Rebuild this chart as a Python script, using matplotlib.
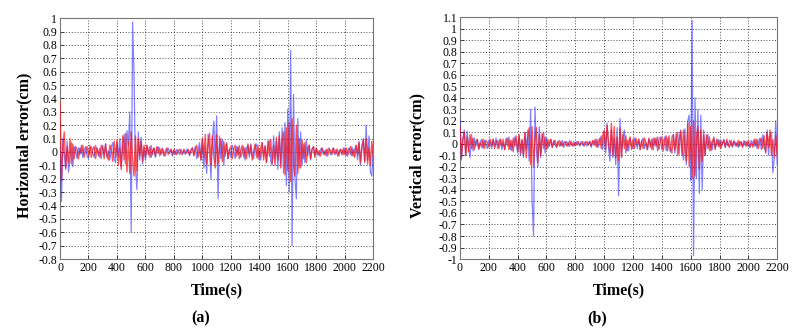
import matplotlib
matplotlib.use("Agg")
import matplotlib.pyplot as plt
import numpy as np
from matplotlib.ticker import FuncFormatter, MultipleLocator

plt.rcParams['font.family'] = ['Liberation Serif', 'DejaVu Serif']
plt.rcParams['axes.unicode_minus'] = False

# time samples (s)
time_s = list(range(0, 2201, 10))

# (a) horizontal error (cm)
horiz_blue = [
    0.06, -0.37, 0.10, -0.02, -0.13, 0.08, -0.15, -0.04, 0.07, -0.11,
    0.04, 0.01, -0.05, 0.03, -0.02, 0.05, -0.04, 0.02, 0.04, -0.03,
    -0.05, 0.02, 0.04, -0.01, -0.04, 0.05, 0.01, -0.03, 0.03, -0.05,
    0.05, -0.02, 0.06, -0.04, 0.01, -0.06, 0.04, 0.07, -0.05, -0.08,
    0.07, -0.03, 0.10, -0.11, 0.04, 0.13, -0.09, 0.16, 0.05, 0.30,
    -0.60, 0.97, 0.55, -0.12, -0.28, 0.15, -0.06, 0.11, -0.09, 0.03,
    -0.06, 0.05, 0.01, -0.04, 0.05, -0.02, 0.03, -0.04, 0.02, 0.04,
    -0.03, 0.01, 0.03, -0.02, -0.03, 0.02, 0.03, -0.01, 0.02, -0.03,
    0.01, -0.02, 0.02, 0.00, -0.02, 0.02, -0.01, 0.01, -0.02, 0.02,
    0.01, -0.03, 0.02, 0.03, -0.02, 0.04, -0.05, 0.02, 0.07, -0.06,
    0.10, -0.12, 0.04, -0.16, 0.13, 0.02, -0.20, 0.09, 0.23, -0.08,
    0.27, -0.35, 0.12, -0.05, 0.09, -0.10, 0.04, 0.07, -0.05, 0.02,
    -0.04, 0.05, 0.01, -0.05, 0.04, -0.02, 0.05, -0.04, 0.00, 0.04,
    -0.06, 0.03, 0.05, -0.04, 0.06, -0.02, -0.05, 0.04, 0.06, -0.05,
    0.02, -0.06, 0.07, -0.03, 0.05, -0.08, 0.04, 0.09, -0.07, -0.10,
    0.12, -0.05, 0.08, -0.13, 0.15, -0.09, 0.18, -0.16, 0.22, -0.25,
    0.32, -0.30, 0.76, -0.70, 0.43, -0.20, -0.35, 0.25, -0.12, 0.15,
    -0.10, 0.06, -0.08, 0.09, -0.03, 0.05, -0.06, 0.02, 0.04, -0.03,
    0.03, -0.01, -0.03, 0.02, 0.03, -0.02, 0.01, -0.03, 0.02, 0.03,
    -0.02, 0.01, 0.03, -0.02, -0.01, 0.02, -0.03, 0.02, 0.01, -0.02,
    0.03, -0.03, 0.01, 0.03, -0.02, 0.04, -0.03, 0.02, 0.05, -0.06,
    0.08, -0.10, 0.03, 0.10, -0.08, 0.20, -0.06, 0.12, -0.15, -0.18,
    0.05,
]
horiz_red = [
    0.38, -0.22, 0.05, 0.15, -0.12, 0.04, -0.08, 0.10, -0.09, 0.06,
    -0.05, 0.04, 0.02, -0.05, 0.03, -0.01, 0.05, -0.04, 0.01, 0.04,
    -0.03, 0.05, -0.04, 0.02, 0.04, -0.05, 0.03, 0.00, -0.04, 0.05,
    0.02, -0.05, 0.06, -0.03, -0.06, 0.05, 0.02, -0.07, 0.08, -0.04,
    0.09, -0.10, 0.03, -0.13, 0.12, -0.06, 0.14, -0.15, 0.08, -0.16,
    0.15, -0.05, -0.18, 0.12, -0.14, 0.10, -0.03, 0.08, -0.07, 0.05,
    -0.04, 0.05, -0.02, 0.04, -0.04, 0.01, 0.03, -0.03, 0.04, -0.01,
    0.03, -0.02, 0.02, -0.03, 0.01, 0.03, -0.02, 0.00, 0.02, -0.02,
    0.02, 0.00, -0.02, 0.01, 0.02, -0.01, -0.02, 0.02, 0.00, -0.01,
    0.02, -0.02, 0.01, 0.03, -0.03, 0.02, 0.05, -0.04, 0.03, -0.06,
    0.10, -0.04, 0.13, -0.09, 0.05, 0.14, -0.10, 0.12, -0.03, -0.12,
    0.13, -0.09, 0.04, 0.10, -0.07, 0.08, -0.03, 0.06, -0.05, 0.02,
    0.04, -0.05, 0.02, 0.05, -0.03, 0.04, -0.05, 0.01, 0.05, -0.04,
    0.03, -0.05, 0.06, -0.02, 0.05, -0.06, 0.01, 0.06, -0.04, 0.05,
    -0.06, 0.03, 0.07, -0.06, 0.04, -0.08, 0.08, -0.03, 0.09, -0.08,
    0.05, -0.10, 0.11, -0.06, 0.12, -0.12, 0.07, 0.15, -0.17, 0.18,
    -0.14, 0.22, -0.22, 0.25, -0.10, -0.18, 0.20, -0.16, 0.10, -0.12,
    0.09, -0.05, 0.07, -0.08, 0.03, 0.05, -0.05, 0.02, 0.04, -0.04,
    0.03, -0.02, 0.01, -0.03, 0.03, 0.00, -0.02, 0.02, -0.03, 0.02,
    0.01, -0.02, 0.03, -0.01, 0.02, -0.03, 0.00, 0.02, -0.02, 0.03,
    -0.02, 0.03, -0.03, 0.01, 0.04, -0.03, 0.02, -0.04, 0.05, -0.02,
    0.07, -0.08, 0.04, 0.09, -0.07, 0.10, -0.09, 0.03, -0.10, 0.08,
    -0.04,
]

# (b) vertical error (cm)
vert_blue = [
    0.20, -0.14, 0.05, 0.12, -0.10, 0.11, -0.03, -0.12, 0.08, -0.06,
    0.05, -0.02, 0.04, -0.05, 0.01, 0.04, -0.04, 0.03, -0.01, -0.04,
    0.03, 0.01, -0.04, 0.04, -0.02, 0.05, -0.04, 0.02, 0.04, -0.05,
    0.01, -0.05, 0.05, -0.02, 0.06, -0.05, 0.03, -0.07, 0.06, 0.02,
    -0.08, 0.07, -0.10, 0.03, -0.12, 0.10, -0.05, 0.12, -0.15, 0.30,
    -0.48, -0.80, 0.32, -0.06, -0.20, 0.15, -0.12, 0.04, 0.10, -0.08,
    0.05, -0.04, 0.01, 0.04, -0.03, 0.03, -0.01, -0.03, 0.02, 0.03,
    -0.02, 0.03, -0.03, 0.01, 0.02, -0.02, 0.03, 0.00, -0.02, 0.02,
    -0.01, 0.02, 0.01, -0.02, 0.02, -0.01, 0.00, 0.02, -0.02, 0.01,
    0.02, -0.03, 0.01, 0.03, -0.02, 0.04, -0.03, 0.02, 0.07, -0.05,
    0.10, -0.08, 0.18, -0.03, -0.15, 0.12, -0.12, 0.05, -0.18, 0.14,
    -0.45, 0.22, -0.10, 0.06, 0.12, -0.08, 0.03, -0.06, 0.05, -0.02,
    -0.04, 0.05, 0.01, -0.04, 0.04, -0.05, 0.02, 0.05, -0.04, 0.01,
    -0.05, 0.04, 0.02, -0.05, 0.05, -0.01, 0.05, -0.06, 0.04, 0.06,
    -0.05, 0.02, 0.06, -0.06, 0.05, -0.03, -0.07, 0.06, 0.08, -0.08,
    0.04, 0.10, -0.09, 0.12, -0.04, -0.14, 0.13, -0.18, 0.20, 0.25,
    -0.32, 1.07, -0.97, 0.40, -0.30, 0.30, -0.43, 0.25, -0.40, 0.12,
    -0.10, 0.04, 0.08, -0.06, 0.02, -0.05, 0.06, -0.04, 0.01, 0.04,
    -0.03, 0.03, -0.01, 0.04, -0.03, 0.02, -0.02, 0.03, 0.00, -0.03,
    0.03, -0.02, 0.01, -0.03, 0.02, 0.01, -0.02, 0.03, -0.02, 0.02,
    -0.01, -0.03, 0.03, 0.01, -0.02, 0.04, -0.04, 0.02, 0.05, -0.05,
    0.08, -0.02, -0.07, 0.12, -0.10, 0.06, 0.10, -0.25, -0.12, 0.20,
    -0.18,
]
vert_red = [
    0.15, -0.12, 0.03, 0.10, -0.10, 0.06, -0.07, 0.08, -0.04, 0.05,
    -0.05, 0.02, 0.04, -0.04, 0.01, -0.03, 0.04, -0.04, 0.03, 0.01,
    -0.03, 0.04, -0.02, 0.04, -0.04, 0.01, 0.03, -0.04, 0.04, -0.02,
    0.04, -0.05, 0.02, 0.05, -0.05, 0.03, -0.06, 0.05, -0.02, 0.07,
    -0.06, 0.08, -0.08, 0.04, -0.10, 0.10, -0.12, 0.05, 0.14, -0.18,
    0.15, -0.20, 0.05, 0.14, -0.16, 0.08, -0.10, 0.09, -0.04, 0.06,
    -0.05, 0.04, -0.02, 0.04, -0.03, 0.01, 0.03, -0.03, 0.02, -0.02,
    0.02, -0.02, 0.01, 0.02, -0.02, 0.01, -0.02, 0.02, 0.00, -0.02,
    0.01, -0.01, 0.02, -0.01, 0.00, 0.02, -0.02, 0.01, 0.02, -0.01,
    0.02, -0.02, 0.03, -0.01, 0.04, -0.03, 0.02, 0.05, -0.04, 0.07,
    0.12, -0.05, 0.16, 0.02, -0.08, 0.18, -0.10, 0.15, -0.12, 0.06,
    -0.15, 0.14, -0.12, 0.08, -0.04, 0.07, -0.06, 0.02, 0.06, -0.05,
    0.04, -0.04, 0.05, -0.01, 0.04, -0.05, 0.03, -0.04, 0.05, 0.01,
    -0.05, 0.05, -0.03, 0.04, -0.05, 0.05, -0.02, 0.06, -0.05, 0.03,
    0.06, -0.06, 0.02, 0.07, -0.06, 0.07, -0.04, -0.08, 0.08, -0.05,
    0.09, -0.10, 0.04, 0.11, -0.10, 0.12, -0.06, -0.15, 0.18, -0.20,
    0.15, -0.30, 0.20, -0.28, 0.05, 0.15, -0.22, 0.12, -0.15, 0.08,
    -0.10, 0.08, -0.04, 0.06, -0.06, 0.02, 0.05, -0.05, 0.04, -0.02,
    0.03, -0.04, 0.01, 0.03, -0.03, 0.04, -0.01, -0.03, 0.03, -0.02,
    0.02, 0.01, -0.02, 0.03, -0.02, 0.02, -0.03, 0.01, 0.02, -0.02,
    0.03, -0.03, 0.01, -0.03, 0.04, -0.02, 0.04, -0.04, 0.02, 0.05,
    -0.04, 0.07, -0.08, 0.10, -0.03, 0.12, -0.10, 0.04, -0.12, 0.08,
    -0.10,
]

x_ticks = list(range(0, 2201, 200))
fig = plt.figure(figsize=(7.95, 3.30), dpi=100)

panels = [
    dict(rect=[0.0755, 0.215, 0.394, 0.730], blue=horiz_blue, red=horiz_red,
         ylim=(-0.8, 1.0), ylabel='Horizontal error(cm)', tag='(a)',
         ylab_x=0.031, ylab_y=0.56, tag_x=0.252),
    dict(rect=[0.5786, 0.215, 0.399, 0.733], blue=vert_blue, red=vert_red,
         ylim=(-1.0, 1.1), ylabel='Vertical error(cm)', tag='(b)',
         ylab_x=0.525, ylab_y=0.53, tag_x=0.751),
]

fmt = FuncFormatter(lambda v, p: f'{round(v, 1):g}')
for pnl in panels:
    ax = fig.add_axes(pnl['rect'])
    ax.plot(time_s, pnl['blue'], color=(0.1, 0.1, 1.0), alpha=0.55, lw=0.9, zorder=3)
    ax.plot(time_s, pnl['red'], color=(1.0, 0.05, 0.05), alpha=0.7, lw=1.0, zorder=4)
    ax.set_xlim(0, 2200)
    ax.set_ylim(*pnl['ylim'])
    ax.set_xticks(x_ticks)
    ax.yaxis.set_major_locator(MultipleLocator(0.1))
    ax.yaxis.set_major_formatter(fmt)
    ax.grid(True, color='#333333', linestyle=(0, (1.2, 2.2)), linewidth=0.6, zorder=0)
    ax.tick_params(direction='in', length=3, width=0.6, labelsize=8.5, pad=2,
                   colors='#222222', labelcolor='black')
    for s in ax.spines.values():
        s.set_color('#777777')
        s.set_linewidth(0.8)
    cx = pnl['rect'][0] + pnl['rect'][2] / 2
    fig.text(cx, 0.12, 'Time(s)', ha='center', va='center', fontsize=11.5, fontweight='bold')
    fig.text(pnl['tag_x'], 0.035, pnl['tag'], ha='center', va='center', fontsize=11.5, fontweight='bold')
    fig.text(pnl['ylab_x'], pnl['ylab_y'], pnl['ylabel'], ha='center', va='center',
             rotation=90, fontsize=11.5, fontweight='bold')

fig.savefig('out.png', dpi=100)
